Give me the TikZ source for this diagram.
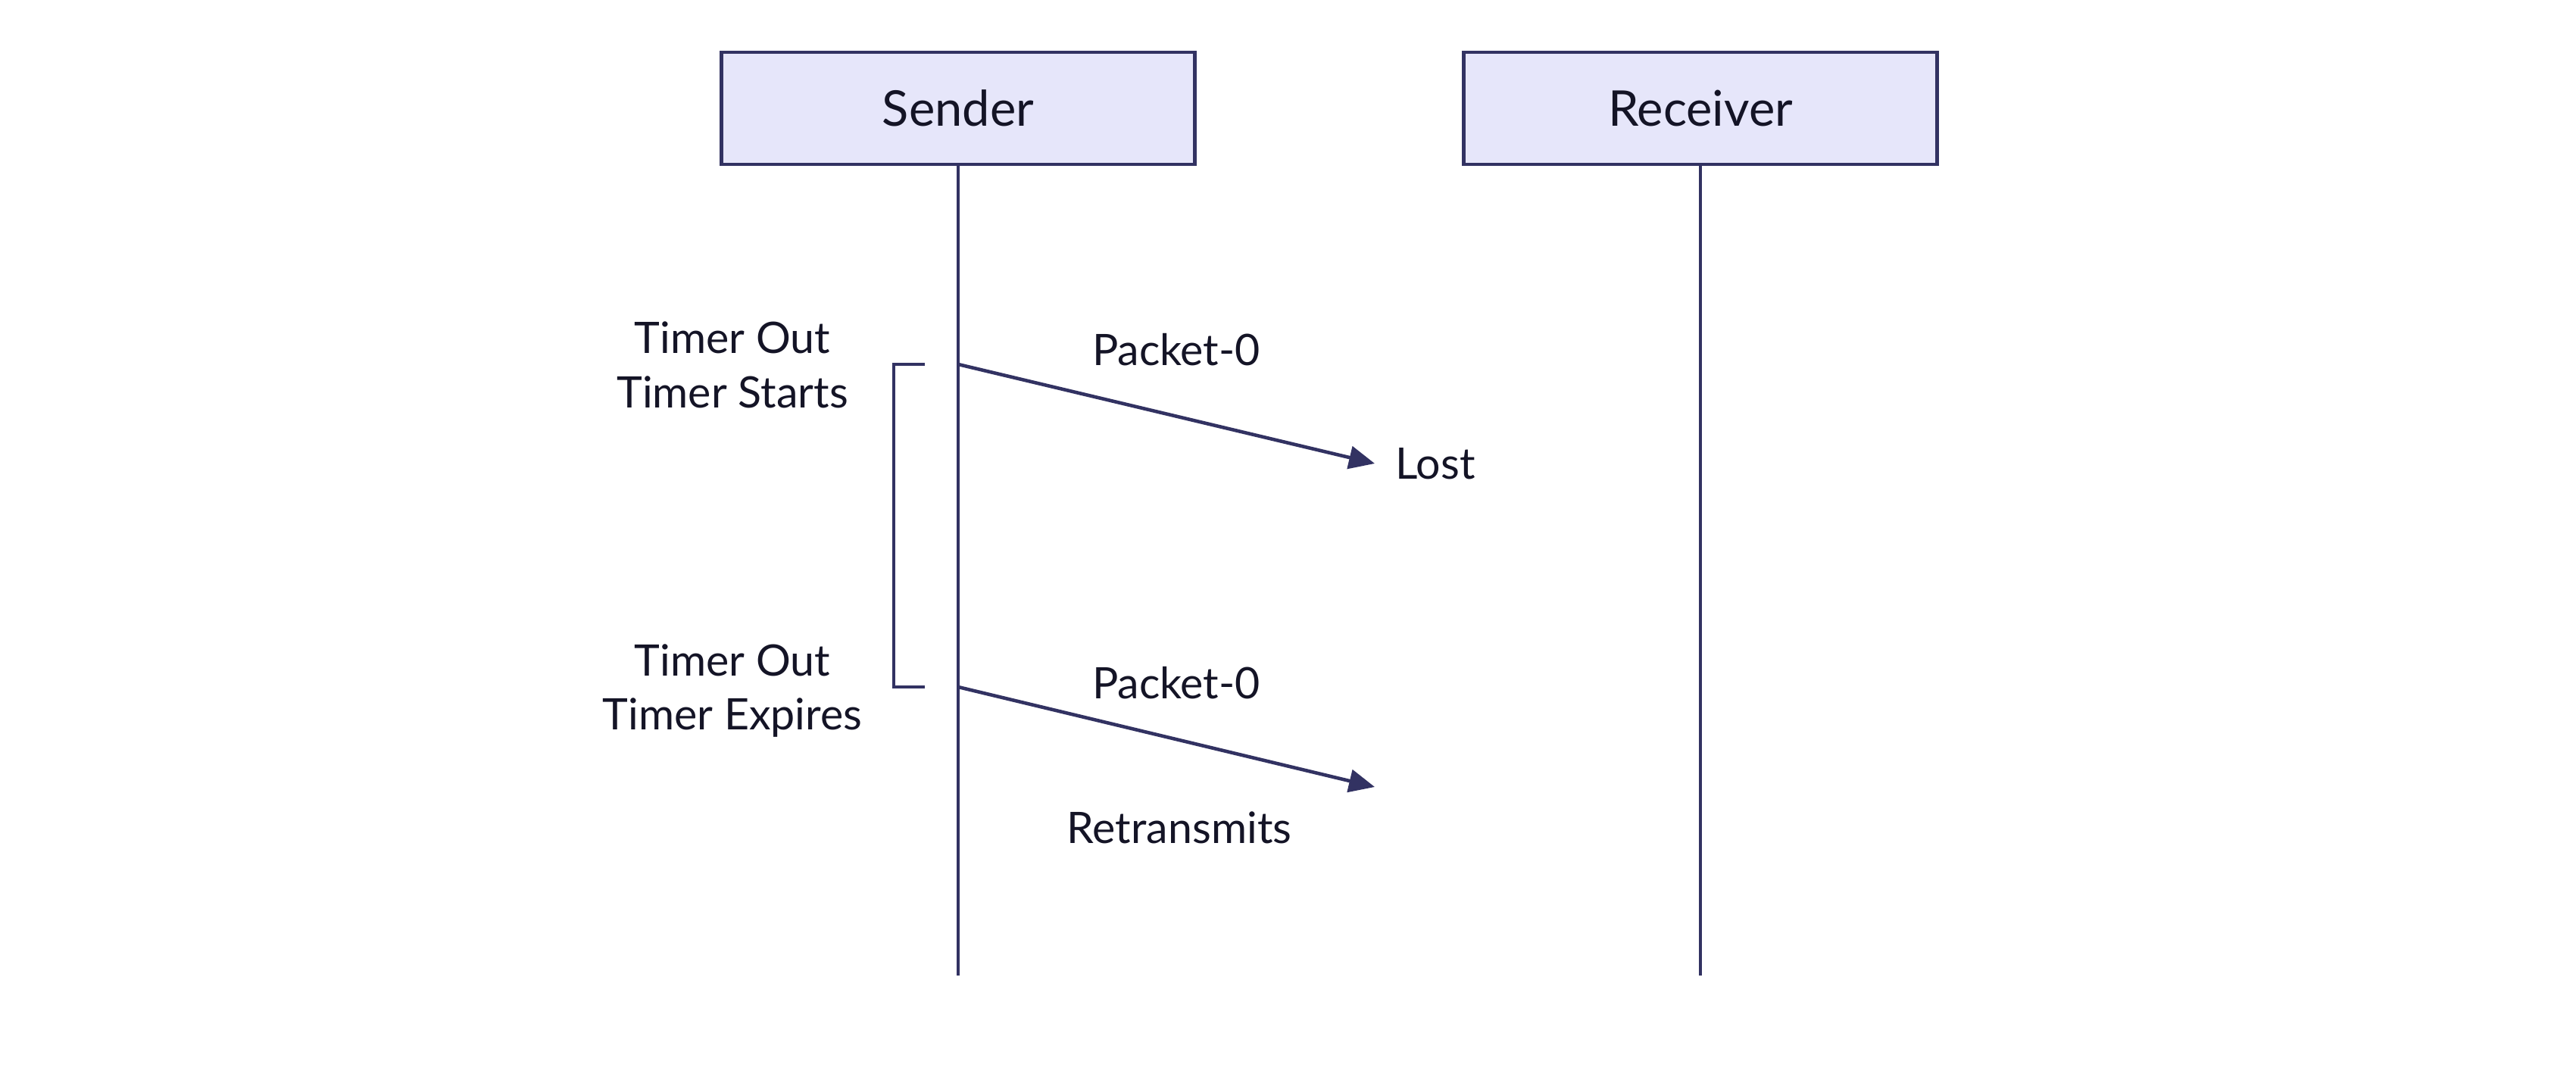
\documentclass[tikz,border=0pt]{standalone}
\usepackage{fontspec}
\setmainfont{Lato}
\usepackage{tikz}
\usetikzlibrary{arrows.meta, positioning}
\usepackage{xcolor}
\definecolor{linecolor}{RGB}{50,50,98}
\definecolor{boxcolor}{RGB}{230,230,250}
\definecolor{textcolor}{RGB}{20,20,38}

\begin{document}
\begin{tikzpicture}[
    party/.style={rectangle, draw=linecolor, line width=1.3pt, fill=boxcolor, minimum width=6.25cm, minimum height=1.48cm, align=center, text=textcolor, font=\fontsize{18.5}{22}\selectfont},
    lbl/.style={align=center, text=textcolor, font=\fontsize{16.3}{20.3}\selectfont},
    lifeline/.style={draw=linecolor, line width=1.1pt},
    msg/.style={-{Triangle[length=0.34cm, width=0.3cm]}, draw=linecolor, fill=linecolor, line width=1.3pt}
]
\useasboundingbox (0,0) rectangle (34.01,-14.18);

\node[party] (sender) at (12.65,-1.43) {Sender};
\node[party] (receiver) at (22.45,-1.43) {Receiver};
\coordinate (senderend) at (12.65,-12.88);
\coordinate (receiverend) at (22.45,-12.88);
\draw[lifeline] (sender.south) -- (senderend);
\draw[lifeline] (receiver.south) -- (receiverend);

% timer bracket
\coordinate (send1) at (12.65,-4.81);
\coordinate (send2) at (12.65,-9.07);
\coordinate (lost) at (18.15,-6.12);
\coordinate (resent) at (18.15,-10.39);
\coordinate (brtop) at (12.21,-4.81);
\coordinate (brbot) at (12.21,-9.07);
\draw[lifeline] (brtop) -- ++(-0.41,0) |- (brbot);

% messages
\draw[msg] (send1) -- (lost);
\draw[msg] (send2) -- (resent);

\node[lbl] (pkt1) at (15.53,-4.62) {Packet-0};
\node[lbl, right=0.15cm of lost] (lostlbl) {Lost};
\node[lbl] (pkt2) at (15.53,-9.02) {Packet-0};
\node[lbl] (retrans) at (15.57,-10.93) {Retransmits};
\node[lbl] (tstart) at (9.67,-4.82) {Timer Out\\Timer Starts};
\node[lbl] (texpire) at (9.67,-9.12) {Timer Out\\Timer Expires};
\end{tikzpicture}
\end{document}
